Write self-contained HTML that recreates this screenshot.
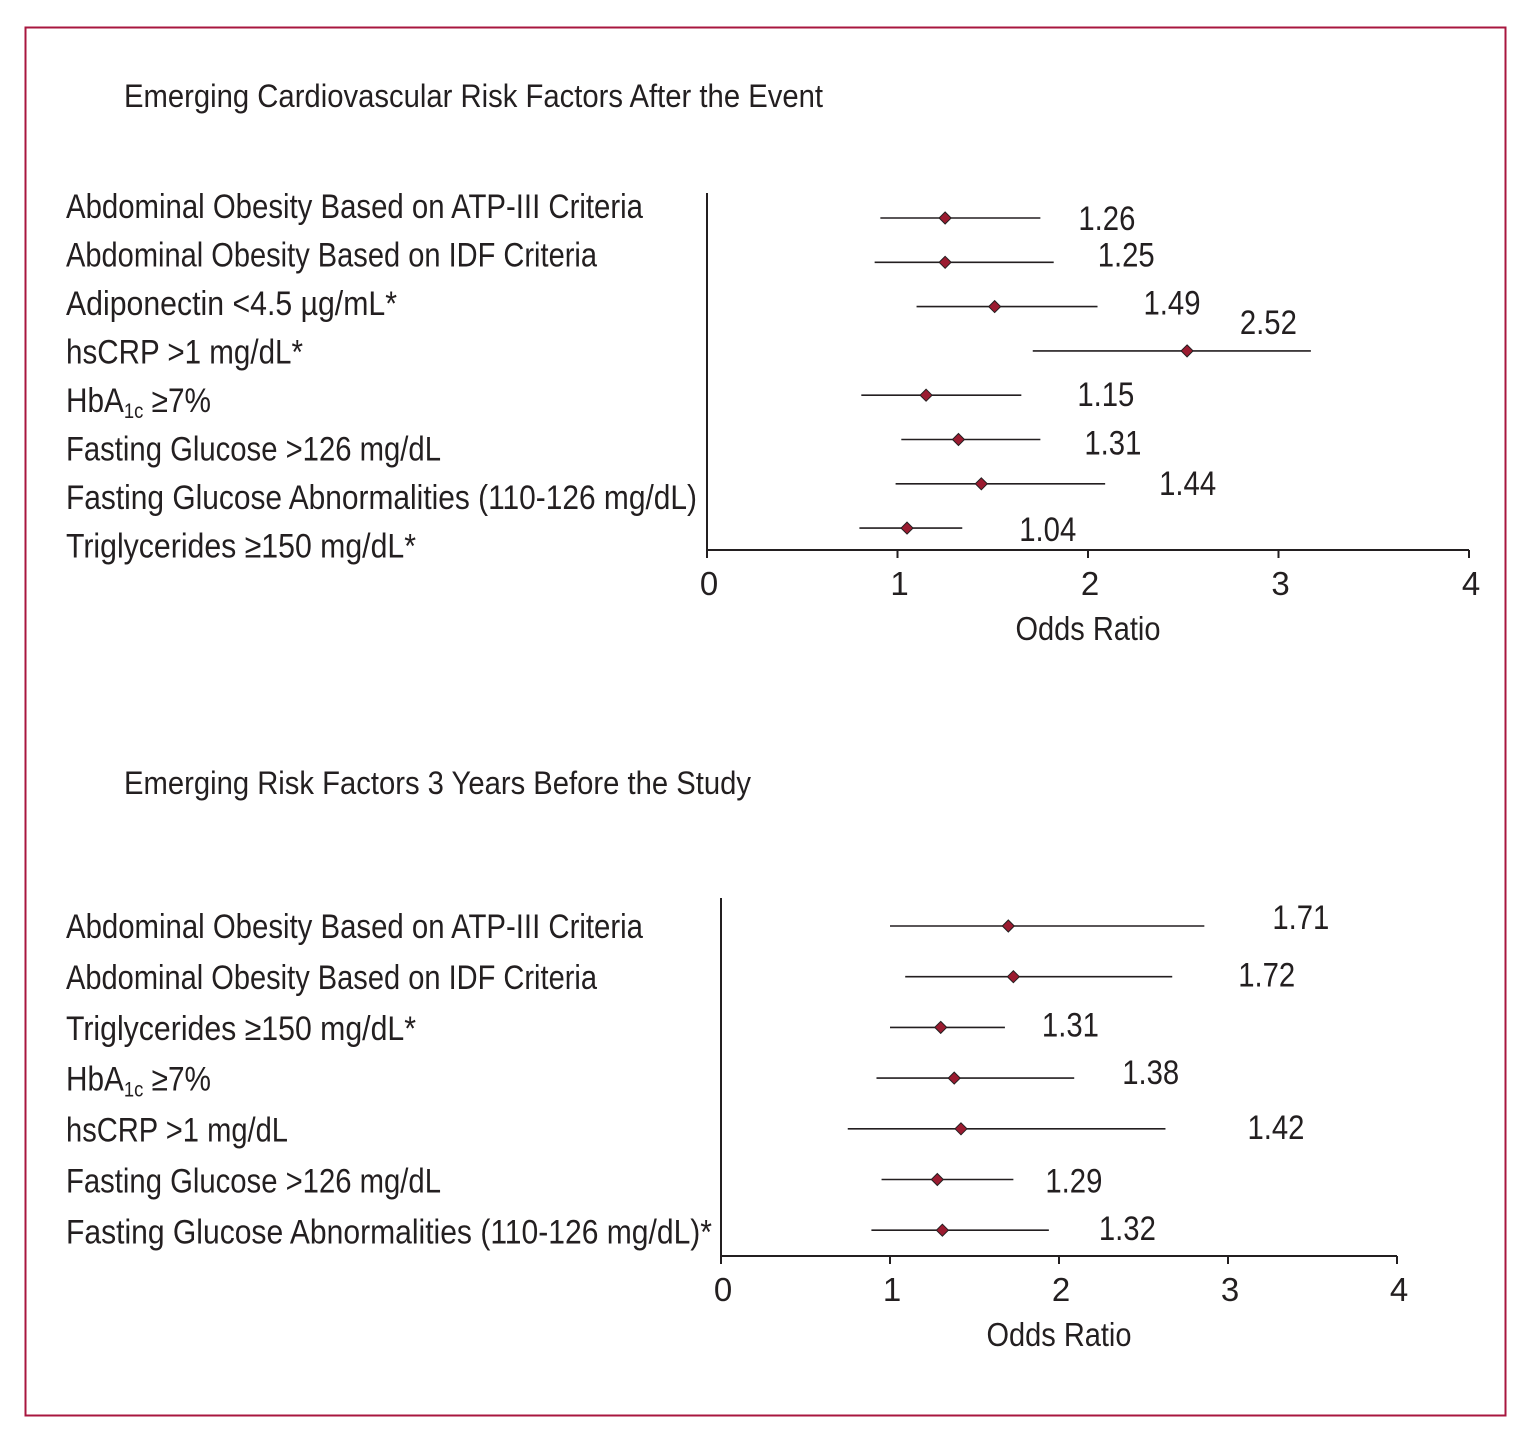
<!DOCTYPE html>
<html><head><meta charset="utf-8">
<style>
html,body{margin:0;padding:0;background:#fff;}
svg{display:block;}
text{font-family:"Liberation Sans Narrow","Liberation Sans",sans-serif;fill:#231f20;}
</style></head>
<body>
<svg id="chart" width="1529" height="1450" viewBox="0 0 1529 1450" xmlns="http://www.w3.org/2000/svg">
<rect x="25.5" y="27.5" width="1480" height="1388" fill="none" stroke="#a8173f" stroke-width="2"/>
<text x="124" y="107" font-size="32" textLength="699" lengthAdjust="spacingAndGlyphs">Emerging Cardiovascular Risk Factors After the Event</text>
<text x="124" y="794" font-size="32" textLength="627" lengthAdjust="spacingAndGlyphs">Emerging Risk Factors 3 Years Before the Study</text>
<g id="top"></g>
<g id="bottom"></g>
</svg>
<script>
// ---- Top panel data ----
const topCats = ["Abdominal Obesity Based on ATP-III Criteria","Abdominal Obesity Based on IDF Criteria","Adiponectin <4.5 µg/mL*","hsCRP >1 mg/dL*","HbA1c ≥7%","Fasting Glucose >126 mg/dL","Fasting Glucose Abnormalities (110-126 mg/dL)","Triglycerides ≥150 mg/dL*"];
const topOR = [1.25,1.25,1.51,2.52,1.15,1.32,1.44,1.05];
const topLo = [0.91,0.88,1.10,1.71,0.81,1.02,0.99,0.80];
const topHi = [1.75,1.82,2.05,3.17,1.65,1.75,2.09,1.34];
const topLabels = ["1.26","1.25","1.49","2.52","1.15","1.31","1.44","1.04"];
const topTicks = [0,1,2,3,4];
// ---- Bottom panel data ----
const botCats = ["Abdominal Obesity Based on ATP-III Criteria","Abdominal Obesity Based on IDF Criteria","Triglycerides ≥150 mg/dL*","HbA1c ≥7%","hsCRP >1 mg/dL","Fasting Glucose >126 mg/dL","Fasting Glucose Abnormalities (110-126 mg/dL)*"];
const botOR = [1.70,1.73,1.30,1.38,1.42,1.28,1.31];
const botLo = [1.00,1.09,1.00,0.92,0.75,0.95,0.89];
const botHi = [2.86,2.67,1.68,2.09,2.63,1.73,1.94];
const botLabels = ["1.71","1.72","1.31","1.38","1.42","1.29","1.32"];
const botTicks = [0,1,2,3,4];

const NS="http://www.w3.org/2000/svg";
function mk(tag,attrs,parent,txt){const e=document.createElementNS(NS,tag);for(const k in attrs)e.setAttribute(k,attrs[k]);if(txt!==undefined)e.textContent=txt;parent.appendChild(e);return e;}

function labelText(parent,x,y,s,w){
  const t=mk('text',{x:x,y:y,'font-size':34},parent);
  if(s.indexOf('HbA1c')===0){
    t.appendChild(document.createTextNode('HbA'));
    mk('tspan',{'font-size':21,dy:6},t,'1c');
    mk('tspan',{dy:-6},t,s.slice(5));
    t.setAttribute('textLength',145);t.setAttribute('lengthAdjust','spacingAndGlyphs');
  } else {
    t.textContent=s;
    if(w) {t.setAttribute('textLength',w);t.setAttribute('lengthAdjust','spacingAndGlyphs');}
  }
  return t;
}

function panel(g,cfg){
  const xs=v=>cfg.x0+v*(cfg.x1-cfg.x0)/4;
  const n=cfg.cats.length;
  const ys=i=>cfg.rowY0+i*cfg.rowStep;
  const ax=mk('line',{x1:cfg.x0,y1:cfg.yTop,x2:cfg.x0,y2:cfg.yAxis,stroke:'#231f20','stroke-width':2},g);
  
  const bx=mk('line',{x1:cfg.x0,y1:cfg.yAxis,x2:cfg.x1,y2:cfg.yAxis,stroke:'#231f20','stroke-width':2},g);
  
  cfg.ticks.forEach(t=>{
    const tk=mk('line',{x1:xs(t),y1:cfg.yAxis,x2:xs(t),y2:cfg.yAxis+8,stroke:'#231f20','stroke-width':2},g);
    
    const tl=mk('text',{x:xs(t)+2,y:cfg.yAxis+45,'font-size':33,'text-anchor':'middle'},g,String(t));
    
  });
  const tt=mk('text',{x:(cfg.x0+cfg.x1)/2,y:cfg.yAxis+90,'font-size':33,'text-anchor':'middle',textLength:145,lengthAdjust:'spacingAndGlyphs'},g,'Odds Ratio');
  
  for(let i=0;i<n;i++){
    const y=ys(i);
    const lb=labelText(g,66,cfg.labY0+i*cfg.labStep,cfg.cats[i],cfg.widths[i]);
    
    const ci=mk('line',{x1:xs(cfg.lo[i]),y1:y,x2:xs(cfg.hi[i]),y2:y,stroke:'#231f20','stroke-width':1.6},g);
    
    const cx=xs(cfg.or[i]),r=6;
    const d=mk('polygon',{points:`${cx},${y-r} ${cx+r},${y} ${cx},${y+r} ${cx-r},${y}`,fill:'#9b1b30',stroke:'#231f20','stroke-width':1},g);
    
    const lx=xs(cfg.hi[i])+cfg.valDx[i], ly=y+12+cfg.valDy[i];
    const vl=mk('text',{x:lx,y:ly,'font-size':34,textLength:57,lengthAdjust:'spacingAndGlyphs'},g,cfg.labels[i]);
    
  }
}
panel(document.getElementById('top'),{
  cats:topCats,or:topOR,lo:topLo,hi:topHi,labels:topLabels,ticks:topTicks,
  x0:707,x1:1469,yTop:193,yAxis:550,rowY0:218,rowStep:44.3,labY0:218,labStep:48.5,
  widths:[577,531,331,237,null,375,631,350],
  valDx:[38,44,46,-71,56,44,54,57],valDy:[0,-8,-4,-29,-1,3,-1,1]
});
panel(document.getElementById('bottom'),{
  cats:botCats,or:botOR,lo:botLo,hi:botHi,labels:botLabels,ticks:botTicks,
  x0:721,x1:1397,yTop:898,yAxis:1256,rowY0:926,rowStep:50.7,labY0:938,labStep:50.9,
  widths:[577,531,350,null,222,375,646],
  valDx:[68,66,37,48,82,32,50],valDy:[-9,-2,-3,-6,-2,1,-2]
});
</script>
</body></html>
